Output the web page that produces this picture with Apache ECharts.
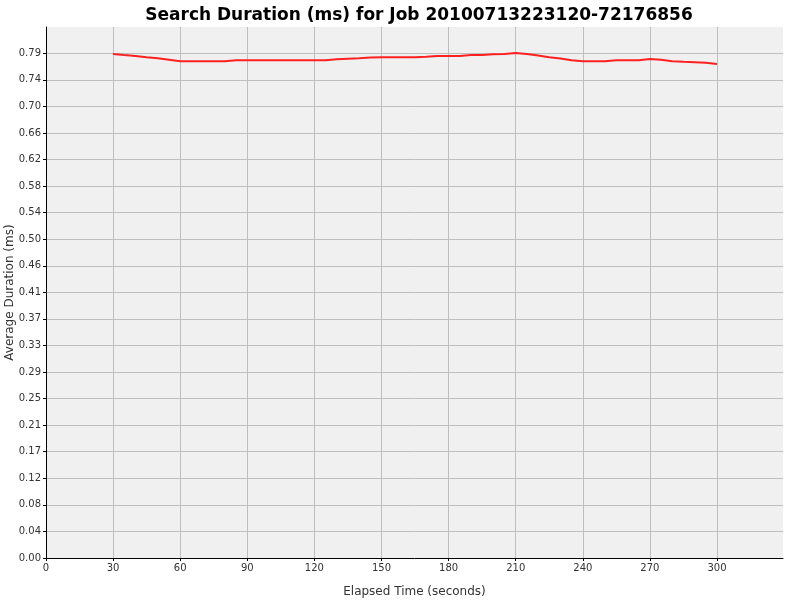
<!DOCTYPE html>
<html lang="en">
<head>
	<meta charset="UTF-8">
	<title>Search Duration</title>
	<script src="https://cdn.jsdelivr.net/npm/echarts@6/dist/echarts.min.js" type="text/javascript"></script>
	<style>
		html,body{margin:0;padding:0;background:#fff;}
		#chart{width:800px;height:600px;}
	</style>
</head>
<body>
<div id="chart"></div>
<script>
	// elapsed time (seconds)
	var elapsed = [30,35,40,45,50,55,60,65,70,75,80,85,90,95,100,105,110,115,120,125,
		130,135,140,145,150,155,160,165,170,175,180,185,190,195,200,205,210,215,220,225,
		230,235,240,245,250,255,260,265,270,275,280,285,290,295,300];
	// average duration (ms)
	var duration = [0.7850,0.7834,0.7819,0.7799,0.7783,0.7760,0.7736,0.7736,0.7736,0.7736,
		0.7736,0.7752,0.7752,0.7752,0.7752,0.7752,0.7752,0.7752,0.7752,0.7752,
		0.7767,0.7775,0.7783,0.7794,0.7799,0.7799,0.7799,0.7799,0.7806,0.7819,
		0.7819,0.7819,0.7834,0.7834,0.7845,0.7850,0.7866,0.7850,0.7825,0.7799,
		0.7778,0.7752,0.7736,0.7736,0.7736,0.7752,0.7752,0.7752,0.7772,0.7760,
		0.7736,0.7728,0.7721,0.7713,0.7694];
	var yStep = 0.041375;

	var points = [];
	for (var i = 0; i < elapsed.length; i++) {
		points.push([elapsed[i], duration[i]]);
	}

	var myChart = echarts.init(document.getElementById('chart'));
	var option = {
		animation: false,
		backgroundColor: '#ffffff',
		title: {
			text: 'Search Duration (ms) for Job 20100713223120-72176856',
			left: 414,
			top: 2,
			textAlign: 'center',
			textStyle: {
				fontFamily: 'DejaVu Sans',
				fontWeight: 'bold',
				fontSize: 17,
				color: '#000'
			}
		},
		grid: {
			left: 46,
			right: 17,
			top: 27,
			bottom: 42,
			containLabel: false,
			outerBoundsMode: 'none',
			show: true,
			backgroundColor: '#f0f0f0',
			borderWidth: 0
		},
		xAxis: {
			type: 'value',
			min: 0,
			max: 329.5,
			interval: 30,
			name: 'Elapsed Time (seconds)',
			nameLocation: 'middle',
			nameGap: 28,
			nameMoveOverlap: false,
			nameTextStyle: {fontFamily: 'DejaVu Sans', fontSize: 12, color: '#333'},
			axisLine: {lineStyle: {color: '#000', width: 1}},
			axisTick: {show: true, length: 3, lineStyle: {color: '#000'}},
			axisLabel: {fontFamily: 'DejaVu Sans', fontSize: 10, color: '#333', margin: 5, showMaxLabel: false},
			splitLine: {show: true, showMinLine: false, showMaxLine: false, lineStyle: {color: '#bebebe', width: 1}}
		},
		yAxis: {
			type: 'value',
			min: 0,
			max: 0.827,
			interval: yStep,
			name: 'Average Duration (ms)',
			nameLocation: 'middle',
			nameGap: 30,
			nameMoveOverlap: false,
			nameTextStyle: {fontFamily: 'DejaVu Sans', fontSize: 12, color: '#333'},
			axisLine: {show: true, lineStyle: {color: '#000', width: 1}},
			axisTick: {show: true, length: 3, lineStyle: {color: '#000'}},
			axisLabel: {
				fontFamily: 'DejaVu Sans', fontSize: 10, color: '#333', margin: 5, showMaxLabel: false,
				formatter: function (v) { return v.toFixed(2); }
			},
			splitLine: {show: true, showMinLine: false, showMaxLine: false, lineStyle: {color: '#bebebe', width: 1}}
		},
		series: [
			{
				type: 'line',
				data: points,
				showSymbol: false,
				lineStyle: {color: '#ff2020', width: 2},
				itemStyle: {color: '#ff2020'}
			}
		]
	};
	myChart.setOption(option);
</script>
</body>
</html>
